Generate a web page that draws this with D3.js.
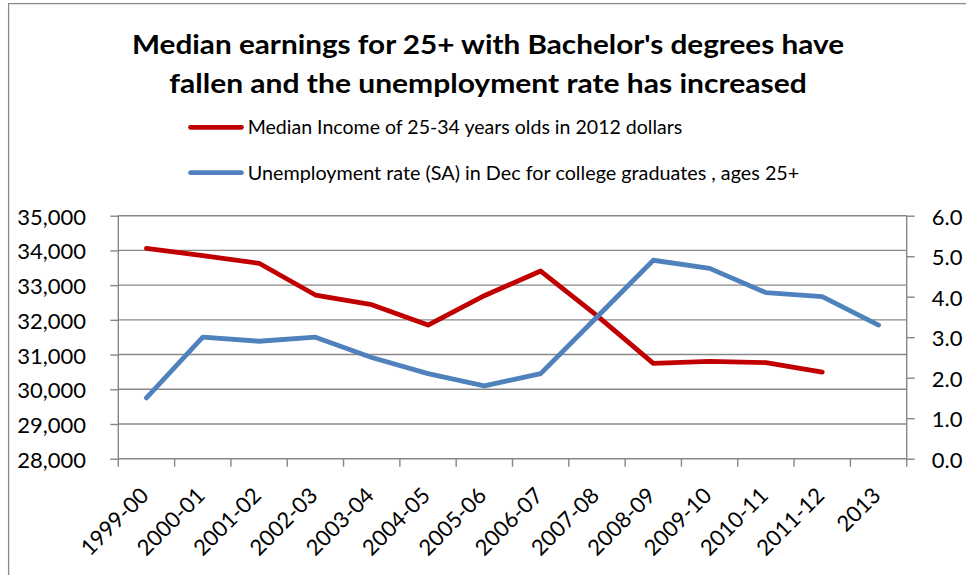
<!DOCTYPE html>
<html>
<head>
<meta charset="utf-8">
<script src="https://cdn.jsdelivr.net/npm/d3@7"></script>
<style>
  html, body { margin: 0; padding: 0; background: #fff; }
  svg { display: block; font-family: Lato, "Open Sans", sans-serif; }
</style>
</head>
<body>
<svg id="chart" width="966" height="575"></svg>
<script>
// ---- data ----
const categories = ["1999-00","2000-01","2001-02","2002-03","2003-04","2004-05","2005-06",
                    "2006-07","2007-08","2008-09","2009-10","2010-11","2011-12","2013"];
const medianIncome = [34060, 33850, 33630, 32715, 32436, 31851, 32695,
                      33406, 32120, 30747, 30805, 30765, 30497, null];
const unemploymentRate = [1.5, 3.0, 2.9, 3.0, 2.5, 2.1, 1.8,
                          2.1, 3.5, 4.9, 4.7, 4.1, 4.0, 3.3];
const leftTicks = [28000, 29000, 30000, 31000, 32000, 33000, 34000, 35000];
const rightTicks = [0, 1, 2, 3, 4, 5, 6];
const titleLines = ["Median earnings for 25+ with Bachelor's degrees have",
                    "fallen and the unemployment rate has increased"];
const seriesNames = ["Median Income of 25-34 years olds in 2012 dollars",
                     "Unemployment rate (SA) in Dec for college graduates , ages 25+"];
const seriesColors = ["#C00000", "#4F81BD"];

// ---- layout ----
const svg = d3.select("#chart");
const plot = { left: 118.3, right: 906.7, top: 215.7, bottom: 458.7 };
const gridColor = "#878787";

const x = d3.scaleBand().domain(categories).range([plot.left, plot.right]).padding(0);
const yL = d3.scaleLinear().domain([28000, 35000]).range([plot.bottom, plot.top]);
const yR = d3.scaleLinear().domain([0, 6]).range([plot.bottom, plot.top]);

// outer border
svg.append("rect")
  .attr("x", 8.6).attr("y", 3.6).attr("width", 1200).attr("height", 1200)
  .attr("fill", "none").attr("stroke", "#8a8a8a").attr("stroke-width", 1.3);

// title
const titleWidths = [712, 637.4];
const titleBaselines = [54.3, 92.7];
titleLines.forEach((t, i) => {
  svg.append("text")
    .attr("x", 488).attr("y", titleBaselines[i])
    .attr("text-anchor", "middle")
    .attr("font-size", 27).attr("font-weight", "bold").attr("fill", "#000")
    .attr("textLength", titleWidths[i]).attr("lengthAdjust", "spacingAndGlyphs")
    .text(t);
});

// legend
const legendY = [127.3, 172.7];
const legendWidths = [434.6, 551.6];
seriesNames.forEach((name, i) => {
  svg.append("line")
    .attr("x1", 190.5).attr("x2", 241.5).attr("y1", legendY[i]).attr("y2", legendY[i])
    .attr("stroke", seriesColors[i]).attr("stroke-width", 4.7).attr("stroke-linecap", "round");
  svg.append("text")
    .attr("x", 247.7).attr("y", legendY[i] + 6.8)
    .attr("font-size", 19.5).attr("fill", "#000")
    .attr("textLength", legendWidths[i]).attr("lengthAdjust", "spacingAndGlyphs")
    .text(name);
});

// gridlines
svg.append("g").selectAll("line").data(leftTicks.slice(1)).join("line")
  .attr("x1", plot.left).attr("x2", plot.right)
  .attr("y1", d => yL(d)).attr("y2", d => yL(d))
  .attr("stroke", gridColor).attr("stroke-width", 1.4);

// left axis
const gL = svg.append("g").attr("transform", `translate(${plot.left},0)`)
  .call(d3.axisLeft(yL).tickValues(leftTicks).tickFormat(d3.format(",")).tickSize(8).tickPadding(24.3));
// right axis
const gR = svg.append("g").attr("transform", `translate(${plot.right},0)`)
  .call(d3.axisRight(yR).tickValues(rightTicks).tickFormat(d3.format(".1f")).tickSize(8).tickPadding(17));
[gL, gR].forEach(g => {
  g.select(".domain").attr("stroke", gridColor).attr("stroke-width", 1.4)
    .attr("d", `M0,${plot.top}V${plot.bottom}`);
  g.selectAll(".tick line").attr("stroke", gridColor).attr("stroke-width", 1.4);
  g.selectAll(".tick text").attr("font-family", "Lato, sans-serif")
    .attr("font-size", 22).attr("fill", "#000").attr("dy", null).attr("y", null)
    .attr("dominant-baseline", "central");
});

// bottom axis (ticks at category boundaries)
const gB = svg.append("g");
gB.append("line")
  .attr("x1", plot.left).attr("x2", plot.right).attr("y1", plot.bottom).attr("y2", plot.bottom)
  .attr("stroke", gridColor).attr("stroke-width", 1.4);
const boundaries = categories.map(c => x(c)).concat([x.range()[1]]);
gB.selectAll("line.tk").data(boundaries).join("line").attr("class", "tk")
  .attr("x1", d => d).attr("x2", d => d).attr("y1", plot.bottom).attr("y2", plot.bottom + 8)
  .attr("stroke", gridColor).attr("stroke-width", 1.4);
gB.selectAll("text").data(categories).join("text")
  .attr("transform", d => `translate(${x(d) + x.bandwidth() / 2 + 3.5},497) rotate(-45)`)
  .attr("text-anchor", "end").attr("font-size", 22).attr("fill", "#000")
  .text(d => d);

// lines
const cx = d => x(d) + x.bandwidth() / 2;
const incomeLine = d3.line()
  .defined(d => d.v != null)
  .x(d => cx(d.c)).y(d => yL(d.v));
const rateLine = d3.line()
  .x(d => cx(d.c)).y(d => yR(d.v));

svg.append("path")
  .datum(categories.map((c, i) => ({ c, v: medianIncome[i] })))
  .attr("d", incomeLine)
  .attr("fill", "none").attr("stroke", seriesColors[0]).attr("stroke-width", 4.8)
  .attr("stroke-linejoin", "round").attr("stroke-linecap", "round");

svg.append("path")
  .datum(categories.map((c, i) => ({ c, v: unemploymentRate[i] })))
  .attr("d", rateLine)
  .attr("fill", "none").attr("stroke", seriesColors[1]).attr("stroke-width", 4.8)
  .attr("stroke-linejoin", "round").attr("stroke-linecap", "round");
</script>
</body>
</html>
